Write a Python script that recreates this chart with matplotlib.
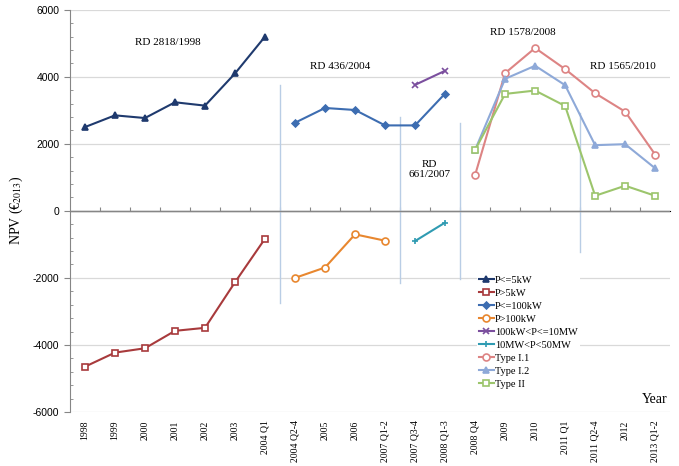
import matplotlib.pyplot as plt
import numpy as np

plt.rcParams['font.family'] = ['Liberation Serif', 'DejaVu Serif']
plt.rcParams['mathtext.fontset'] = 'stix'

# categories on the x axis
periods = ['1998', '1999', '2000', '2001', '2002', '2003', '2004 Q1',
           '2004 Q2-4', '2005', '2006', '2007 Q1-2', '2007 Q3-4', '2008 Q1-3',
           '2008 Q4', '2009', '2010', '2011 Q1', '2011 Q2-4', '2012', '2013 Q1-2']

# RD 2818/1998
idx_rd1998 = [0, 1, 2, 3, 4, 5, 6]
p_le_5kw = [2500, 2850, 2770, 3240, 3140, 4100, 5200]
p_gt_5kw = [-4650, -4230, -4100, -3580, -3490, -2130, -830]

# RD 436/2004
idx_le100 = [7, 8, 9, 10, 11, 12]
p_le_100kw = [2630, 3070, 3010, 2550, 2550, 3500]
idx_gt100 = [7, 8, 9, 10]
p_gt_100kw = [-2000, -1690, -700, -890]

# RD 661/2007
idx_rd2007 = [11, 12]
p_100k_10m = [3760, 4180]
p_10m_50m = [-900, -350]

# RD 1578/2008 + RD 1565/2010
idx_rd2008 = [13, 14, 15, 16, 17, 18, 19]
type_i1 = [1070, 4110, 4860, 4230, 3510, 2960, 1680]
type_i2 = [1820, 3940, 4330, 3750, 1960, 1990, 1270]
type_ii = [1820, 3490, 3590, 3130, 450, 750, 450]

# regime separators: (boundary after category index, top, bottom)
sep_after = [6, 10, 12, 16]
sep_top = [3750, 2800, 2630, 2920]
sep_bottom = [-2750, -2150, -2030, -1220]

fig = plt.figure(figsize=(6.79, 4.66), dpi=100)
ax = fig.add_axes([0.103, 0.116, 0.884, 0.863])

series = [
    (idx_rd1998, p_le_5kw, 'P<=5kW', '#1f3a6e', '^', True),
    (idx_rd1998, p_gt_5kw, 'P>5kW', '#a83a3c', 's', False),
    (idx_le100, p_le_100kw, 'P<=100kW', '#3d6db1', 'D', True),
    (idx_gt100, p_gt_100kw, 'P>100kW', '#e8872f', 'o', False),
    (idx_rd2007, p_100k_10m, '100kW<P<=10MW', '#7b4f9e', 'x', True),
    (idx_rd2007, p_10m_50m, '10MW<P<50MW', '#2f9bb2', '+', True),
    (idx_rd2008, type_i1, 'Type I.1', '#dd8484', 'o', False),
    (idx_rd2008, type_i2, 'Type I.2', '#8ea9d8', '^', True),
    (idx_rd2008, type_ii, 'Type II', '#9cc56c', 's', False),
]

for xs, ys, lab, col, mk, filled in series:
    ms = 3.5 if mk == 'D' else 5
    ax.plot(xs, ys, color=col, lw=1.5, marker=mk, ms=ms,
            mfc=col if filled else 'white', mec=col, mew=1.2, label=lab,
            zorder=3)

for b, t, btm in zip(sep_after, sep_top, sep_bottom):
    ax.plot([b + 0.5, b + 0.5], [btm, t], color='#b9cde5', lw=1, zorder=2)

# regime labels
ax.text(2.77, 5020, 'RD 2818/1998', ha='center', va='center', fontsize=8)
ax.text(8.5, 4300, 'RD 436/2004', ha='center', va='center', fontsize=8)
ax.text(11.47, 1230, 'RD\n661/2007', ha='center', va='center', fontsize=8,
        linespacing=1.1)
ax.text(14.6, 5310, 'RD 1578/2008', ha='center', va='center', fontsize=8)
ax.text(17.93, 4300, 'RD 1565/2010', ha='center', va='center', fontsize=8)

ax.set_xlim(-0.5, len(periods) - 0.5)
ax.set_ylim(-6000, 6000)
ax.set_yticks(np.arange(-6000, 6001, 2000))
ax.set_yticks(np.arange(-6000, 6001, 400), minor=True)
ax.set_yticklabels([f'{v:.0f}' for v in np.arange(-6000, 6001, 2000)],
                   fontsize=7.5, family='Liberation Sans')
ax.tick_params(axis='y', which='major', direction='out', length=4,
               color='#868686')
ax.tick_params(axis='y', which='minor', direction='in', length=2,
               color='#868686')

ax.set_xticks(range(len(periods)))
ax.set_xticklabels(periods, rotation=90, fontsize=7)
ax.tick_params(axis='x', length=0, pad=6)

ax.yaxis.grid(True, color='#d9d9d9', lw=0.9)
ax.set_axisbelow(True)
for s in ['top', 'right', 'bottom']:
    ax.spines[s].set_visible(False)
ax.spines['left'].set_color('#868686')

# category axis crossing at zero
ax.axhline(0, color='#868686', lw=1, zorder=2)
sec = ax.secondary_xaxis(0.5)
sec.set_xticks(np.arange(0.5, len(periods) - 1, 1))
sec.set_xticklabels([])
sec.tick_params(axis='x', direction='out', length=3, color='#868686')
sec.spines['bottom'].set_visible(False)

ax.set_ylabel('NPV (€$_{2013}$)', fontsize=10, labelpad=6)
ax.text(0.995, 0.015, 'Year', transform=ax.transAxes, ha='right',
        va='bottom', fontsize=10)

leg = ax.legend(loc='upper left', bbox_to_anchor=(0.695, 0.425),
                bbox_transform=fig.transFigure, fontsize=7.5, frameon=True,
                handlelength=1.4, handletextpad=0.1, labelspacing=0.36,
                borderpad=0.2, fancybox=False)
leg.get_frame().set_edgecolor('none')
leg.get_frame().set_facecolor('white')
leg.get_frame().set_alpha(1)

fig.savefig('out.png', dpi=100)
